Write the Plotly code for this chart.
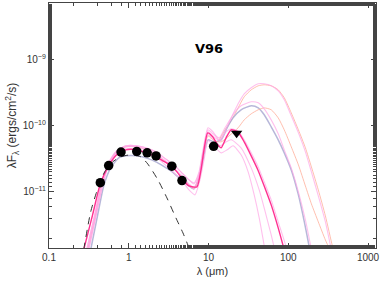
import plotly.graph_objects as go

# ---------------- data ----------------
obs_wav = [0.44, 0.56, 0.80, 1.26, 1.70, 2.20, 3.47, 4.65, 11.6]
obs_flux = [1.38e-11, 2.5e-11, 4.0e-11, 4.1e-11, 3.9e-11, 3.5e-11, 2.45e-11, 1.48e-11, 4.9e-11]

lim_wav = [22.5]
lim_flux = [7.75e-11]

# best-fit model (magenta)
wav_best = [0.272, 0.352, 0.444, 0.56, 0.706, 0.917, 1.26, 1.79, 2.19, 2.68, 3.38, 4.02, 4.78, 5.69, 7.16,
            8.05, 8.78, 9.77, 11.3, 12.8, 14.4, 16.6, 19.2, 23.3, 28.0, 34.3, 41.6, 49.9, 61.1, 74.8, 89.1]
flux_best = [1.32e-12, 4.49e-12, 1.37e-11, 2.48e-11, 3.64e-11, 4.33e-11, 4.33e-11, 3.77e-11, 3.39e-11, 2.95e-11,
             2.48e-11, 2.01e-11, 1.52e-11, 1.23e-11, 1.19e-11, 2.15e-11, 4.33e-11, 7.83e-11, 6.81e-11, 5.33e-11,
             4.65e-11, 6.58e-11, 8.69e-11, 8.11e-11, 5.72e-11, 3.51e-11, 2.15e-11, 1.23e-11, 6.35e-12, 2.85e-12, 1.32e-12]

# other good-fit models (light pink)
wav_a = [0.296, 0.374, 0.457, 0.56, 0.706, 0.917, 1.26, 1.79, 2.19, 2.68, 3.38, 4.02, 4.78, 5.69, 6.57, 7.60,
         8.53, 9.86, 11.4, 13.6, 16.1, 19.2, 23.5, 28.0, 34.3, 42.0, 49.9, 61.1, 74.8, 91.6, 97.1]
flux_a = [1.32e-12, 4.49e-12, 1.37e-11, 2.75e-11, 4.18e-11, 4.98e-11, 4.98e-11, 4.49e-11, 4.04e-11, 3.39e-11,
          2.75e-11, 2.31e-11, 1.87e-11, 1.52e-11, 1.37e-11, 2.01e-11, 4.33e-11, 9.33e-11, 8.11e-11, 6.14e-11,
          7.83e-11, 9.01e-11, 8.4e-11, 6.14e-11, 3.90e-11, 2.39e-11, 1.42e-11, 7.57e-12, 3.51e-12, 1.63e-12, 1.23e-12]

wav_b = [0.314, 0.396, 0.471, 0.56, 0.706, 0.917, 1.26, 1.79, 2.19, 2.68, 3.38, 4.02, 4.78, 5.69, 6.76, 7.82,
         8.78, 9.86, 11.7, 14.4, 17.1, 20.3, 25.6, 31.4, 37.4, 43.2, 48.5, 51.4]
flux_b = [1.32e-12, 4.81e-12, 1.28e-11, 2.48e-11, 3.77e-11, 4.49e-11, 4.49e-11, 3.90e-11, 3.39e-11, 2.75e-11,
          2.15e-11, 1.75e-11, 1.42e-11, 1.07e-11, 9.0e-12, 1.52e-11, 3.05e-11, 5.93e-11, 4.98e-11, 3.90e-11,
          4.33e-11, 4.98e-11, 3.64e-11, 2.01e-11, 9.0e-12, 4.04e-12, 1.87e-12, 1.23e-12]

wav_c = [0.305, 0.385, 0.457, 0.56, 0.706, 0.917, 1.26, 1.79, 2.19, 2.68, 3.38, 4.02, 4.78, 5.69, 6.57, 7.60,
         8.53, 9.86, 11.7, 14.0, 16.6, 19.2, 25.6, 34.3, 43.2, 51.4, 61.1, 68.6]
flux_c = [1.32e-12, 4.64e-12, 1.32e-11, 2.65e-11, 4.04e-11, 4.81e-11, 4.81e-11, 4.18e-11, 3.64e-11, 3.05e-11,
          2.48e-11, 2.01e-11, 1.63e-11, 1.28e-11, 1.11e-11, 1.69e-11, 3.51e-11, 7.31e-11, 6.14e-11, 4.98e-11,
          5.72e-11, 6.14e-11, 4.65e-11, 2.31e-11, 1.07e-11, 4.98e-12, 2.23e-12, 1.23e-12]

wav_top = [0.296, 0.374, 0.457, 0.56, 0.706, 0.917, 1.26, 1.79, 2.19, 2.68, 3.38, 4.02, 4.78, 5.69, 6.57, 7.60,
           8.53, 9.86, 11.4, 13.6, 16.1, 19.2, 23.5, 28.0, 34.3, 42.0, 49.9, 61.1, 74.8, 89.1, 109, 134, 164,
           195, 238, 292, 347]
flux_top = [1.32e-12, 4.49e-12, 1.37e-11, 2.75e-11, 4.18e-11, 4.98e-11, 4.98e-11, 4.49e-11, 4.04e-11, 3.39e-11,
            2.75e-11, 2.31e-11, 1.87e-11, 1.52e-11, 1.32e-11, 1.87e-11, 4.04e-11, 8.69e-11, 7.57e-11, 6.58e-11,
            9.33e-11, 1.32e-10, 2.16e-10, 3.05e-10, 3.77e-10, 4.33e-10, 4.33e-10, 4.04e-10, 3.39e-10, 2.48e-10,
            1.42e-10, 7.83e-11, 4.04e-11, 2.01e-11, 8.69e-12, 3.51e-12, 1.32e-12]

wav_mid = [0.314, 0.396, 0.471, 0.56, 0.706, 0.917, 1.26, 1.79, 2.19, 2.68, 3.38, 4.02, 4.78, 5.69, 6.57, 7.60,
           8.53, 9.86, 11.7, 14.0, 17.1, 20.3, 25.6, 34.3, 42.0, 49.9, 61.1, 74.8, 89.1, 109, 134, 164, 189, 200]
flux_mid = [1.32e-12, 4.81e-12, 1.28e-11, 2.56e-11, 4.04e-11, 4.81e-11, 4.81e-11, 4.33e-11, 3.77e-11, 3.16e-11,
            2.56e-11, 2.08e-11, 1.69e-11, 1.32e-11, 1.19e-11, 1.75e-11, 3.64e-11, 8.11e-11, 6.81e-11, 5.93e-11,
            9.66e-11, 1.47e-10, 2.01e-10, 2.31e-10, 2.23e-10, 1.81e-10, 1.23e-10, 7.57e-11, 4.33e-11, 2.31e-11,
            1.0e-11, 3.77e-12, 1.63e-12, 1.15e-12]

# gray-blue model
wav_gray = [0.333, 0.408, 0.485, 0.594, 0.749, 0.917, 1.26, 1.79, 2.19, 2.68, 3.38, 4.02, 4.78, 5.69, 6.57, 7.60,
            8.53, 9.86, 11.7, 14.4, 17.1, 20.3, 25.6, 34.3, 42.0, 49.9, 61.1, 74.8, 89.1, 109, 134, 159, 184, 189]
flux_gray = [1.32e-12, 4.49e-12, 1.23e-11, 2.31e-11, 3.27e-11, 3.51e-11, 3.51e-11, 3.16e-11, 2.85e-11, 2.48e-11,
             2.08e-11, 1.75e-11, 1.47e-11, 1.23e-11, 1.11e-11, 1.63e-11, 3.05e-11, 6.14e-11, 5.72e-11, 6.14e-11,
             9.33e-11, 1.32e-10, 1.75e-10, 2.01e-10, 1.87e-10, 1.47e-10, 9.66e-11, 6.14e-11, 3.90e-11, 2.15e-11,
             9.0e-12, 3.51e-12, 1.42e-12, 1.15e-12]

# salmon models
wav_salmon = [0.305, 0.385, 0.457, 0.56, 0.706, 0.917, 1.26, 1.79, 2.19, 2.68, 3.38, 4.02, 4.78, 5.69, 6.57, 7.60,
              8.53, 9.86, 11.7, 14.4, 18.1, 23.5, 28.0, 34.3, 42.0, 49.9, 61.1, 74.8, 89.1, 109, 134, 164, 195,
              238, 292, 347]
flux_salmon = [1.32e-12, 4.64e-12, 1.32e-11, 2.65e-11, 4.04e-11, 4.81e-11, 4.81e-11, 4.18e-11, 3.64e-11, 3.05e-11,
               2.48e-11, 2.01e-11, 1.63e-11, 1.28e-11, 1.11e-11, 1.69e-11, 3.51e-11, 7.05e-11, 5.93e-11, 5.72e-11,
               7.05e-11, 9.33e-11, 1.23e-10, 1.52e-10, 1.75e-10, 1.87e-10, 1.75e-10, 1.32e-10, 8.69e-11, 4.81e-11,
               2.56e-11, 1.23e-11, 6.58e-12, 3.51e-12, 1.87e-12, 1.19e-12]

wav_salmon_top = [13.6, 16.1, 19.2, 23.5, 28.0, 34.3, 42.0, 49.9, 61.1, 74.8, 89.1, 109, 134, 164, 195, 238, 292,
                  357, 379]
flux_salmon_top = [6.14e-11, 8.69e-11, 1.19e-10, 1.87e-10, 2.75e-10, 3.51e-10, 4.04e-10, 4.18e-10, 4.04e-10,
                   3.51e-10, 2.66e-10, 1.57e-10, 8.69e-11, 4.65e-11, 2.39e-11, 1.07e-11, 4.33e-12, 1.52e-12, 1.15e-12]

# stellar photosphere (dashed)
wav_star = [0.272, 0.333, 0.396, 0.499, 0.629, 0.793, 1.06, 1.42, 1.73, 2.32, 3.01, 3.90, 4.78, 5.69, 6.03]
flux_star = [1.32e-12, 4.98e-12, 1.0e-11, 2.01e-11, 2.85e-11, 3.39e-11, 3.64e-11, 3.39e-11, 2.65e-11, 1.52e-11,
             8.11e-12, 4.04e-12, 2.39e-12, 1.42e-12, 1.15e-12]

x_tickvals = [0.1, 1, 10, 100, 1000]
x_ticktext = ["0.1", "1", "10", "100", "1000"]
y_tickvals = [1e-11, 1e-10, 1e-9]
y_ticktext = ["10<sup>\u221211</sup>", "10<sup>\u221210</sup>", "10<sup>\u22129</sup>"]

# ---------------- figure ----------------
PINK = "rgba(255,165,230,0.7)"
fig = go.Figure()

def line(x, y, color, width=1.0, dash=None):
    fig.add_trace(go.Scatter(x=x, y=y, mode="lines", hoverinfo="skip",
                             line=dict(color=color, width=width, dash=dash, shape="spline", smoothing=0.6)))

line(wav_salmon_top, flux_salmon_top, "rgba(255,175,155,0.8)", 1.0)
line(wav_gray, flux_gray, "rgba(170,170,210,0.85)", 1.5)
line(wav_salmon, flux_salmon, "rgba(255,175,155,0.8)", 1.0)
line(wav_top, flux_top, PINK, 1.1)
line(wav_mid, flux_mid, PINK, 1.1)
line(wav_a, flux_a, PINK, 1.1)
line(wav_b, flux_b, PINK, 1.1)
line(wav_c, flux_c, PINK, 1.1)
line(wav_best, flux_best, "#ff3090", 1.4)
line(wav_star, flux_star, "#333333", 1.0, dash="7px,6px")

fig.add_trace(go.Scatter(x=obs_wav, y=obs_flux, mode="markers", hoverinfo="skip",
                         marker=dict(symbol="circle", size=9.5, color="black")))
fig.add_trace(go.Scatter(x=lim_wav, y=lim_flux, mode="markers", hoverinfo="skip",
                         marker=dict(symbol="triangle-down", size=10, color="black")))

FONT = "Liberation Sans, Arial, sans-serif"
axis_common = dict(type="log", showgrid=False, zeroline=False, showline=True, linecolor="#444444",
                   linewidth=1.2, mirror="allticks", ticks="inside", ticklen=5, tickcolor="#444444",
                   tickfont=dict(family=FONT, size=10, color="#333333"),
                   minor=dict(ticks="inside", ticklen=3, tickcolor="#444444", showgrid=False))

fig.update_xaxes(**axis_common, range=[-1, 3.10], tickvals=x_tickvals, ticktext=x_ticktext,
                 title=dict(text="\u03bb (\u03bcm)", font=dict(family=FONT, size=11, color="#333333"), standoff=5))
fig.update_yaxes(**axis_common, range=[-11.85, -8.14], tickvals=y_tickvals, ticktext=y_ticktext,
                 title=dict(text="\u03bbF<sub>\u03bb</sub> (ergs/cm<sup>2</sup>/s)",
                            font=dict(family=FONT, size=12, color="#333333"), standoff=3))

fig.add_annotation(text="<b>V96</b>", xref="paper", yref="paper", x=0.49, y=0.853, showarrow=False,
                   font=dict(family="DejaVu Sans, sans-serif", size=13, color="black"))

fig.update_layout(width=382, height=283, margin=dict(l=49, r=6, t=3, b=35),
                  paper_bgcolor="white", plot_bgcolor="white", showlegend=False)

fig.write_html("out.html", config={"displayModeBar": False, "staticPlot": True},
               post_script="document.body.style.margin='0';document.body.style.padding='0';"
                           "document.body.style.overflow='hidden';")
